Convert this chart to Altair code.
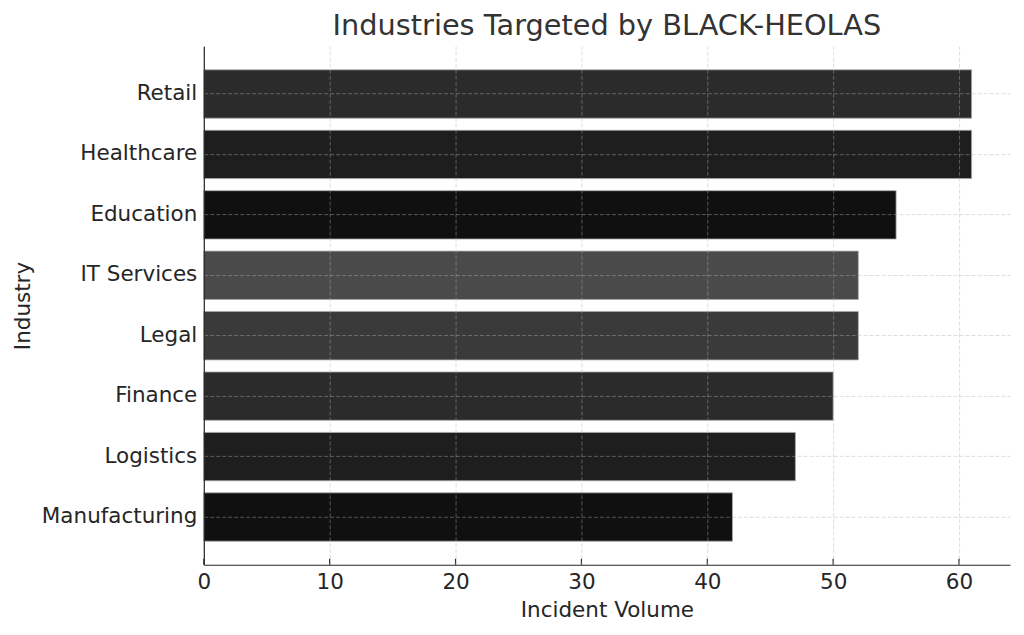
import altair as alt
import pandas as pd

industries = ["Retail", "Healthcare", "Education", "IT Services", "Legal",
              "Finance", "Logistics", "Manufacturing"]
volumes = [61, 61, 55, 52, 52, 50, 47, 42]
bar_colors = ["#2b2b2b", "#1e1e1e", "#101010", "#4a4a4a", "#3a3a3a",
              "#2b2b2b", "#1e1e1e", "#101010"]
x_ticks = [0, 10, 20, 30, 40, 50, 60]

df = pd.DataFrame({"Industry": industries, "Volume": volumes, "Color": bar_colors})
ticks_df = pd.DataFrame({"t": x_ticks})

FONT = "DejaVu Sans"
W, H = 807, 519
xscale = alt.Scale(domain=[0, 64.05], nice=False, zero=True)

bars = alt.Chart(df).mark_bar(stroke="#aaaaaa", strokeWidth=0.8).encode(
    x=alt.X("Volume:Q", scale=xscale,
            axis=alt.Axis(title="Incident Volume", values=x_ticks,
                          grid=True, gridColor="#b0b0b0", gridOpacity=0.55,
                          gridDash=[4, 2], gridWidth=0.8, labelFlush=False,
                          ticks=False, labelPadding=7, zindex=1,
                          domainColor="#262626", domainWidth=1.2,
                          labelFontSize=21.5, labelColor="#262626", labelFont=FONT,
                          titleFontSize=21.5, titleFont=FONT, titleColor="#262626",
                          titleFontWeight="normal", titlePadding=6)),
    y=alt.Y("Industry:N", sort=industries,
            scale=alt.Scale(paddingInner=0.2, paddingOuter=0.39),
            axis=alt.Axis(title="Industry", grid=True, gridColor="#b0b0b0",
                          gridOpacity=0.55, gridDash=[4, 2], gridWidth=0.8,
                          bandPosition=0.5, ticks=False, labelPadding=7, zindex=1,
                          domainColor="#262626", domainWidth=1.2,
                          labelFontSize=21.5, labelColor="#262626", labelFont=FONT,
                          titleFontSize=21.5, titleFont=FONT, titleColor="#262626",
                          titleFontWeight="normal", titlePadding=7)),
    color=alt.Color("Color:N", scale=None),
)

tick_marks = alt.Chart(ticks_df).mark_rule(color="#262626", strokeWidth=1.2).encode(
    x=alt.X("t:Q", scale=xscale),
    y=alt.value(H - 6),
    y2=alt.value(H),
)

chart = alt.layer(bars, tick_marks).properties(
    width=W, height=H,
    title=alt.TitleParams("Industries Targeted by BLACK-HEOLAS", fontSize=28.8,
                          font=FONT, color="#333333", fontWeight="normal",
                          anchor="middle", offset=5),
    autosize=alt.AutoSizeParams(type="none"),
    padding={"left": 196, "top": 38, "right": 6, "bottom": 60},
).configure_view(stroke=None)

chart.save("out.html", embed_options={"renderer": "svg", "actions": False})
